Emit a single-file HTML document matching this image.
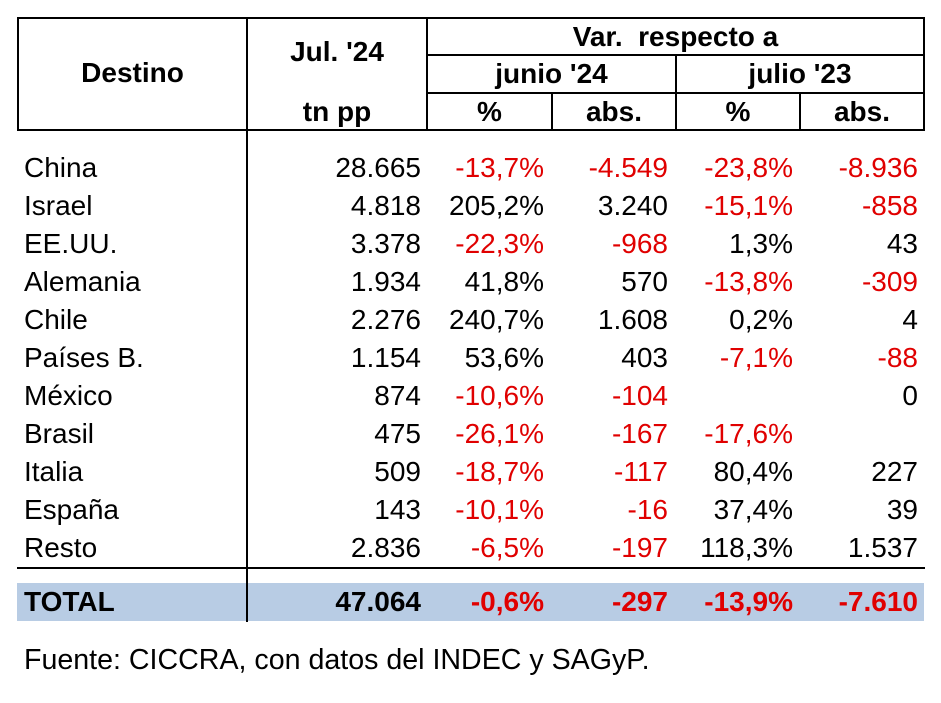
<!DOCTYPE html>
<html><head><meta charset="utf-8"><style>
body{margin:0;width:941px;height:703px;background:#fff;font-family:"Liberation Sans",Arial,sans-serif;position:relative;overflow:hidden}
.a{position:absolute;white-space:nowrap}
.l{position:absolute;background:#000}
.h{font-weight:bold;font-size:28px;text-align:center;line-height:32px}
.t{font-size:28px;line-height:38px}
.r{color:#e00000}
</style></head><body>
<div class="a" style="left:17px;top:583px;width:907px;height:38px;background:#b8cce4"></div>
<div class="l" style="left:17px;top:17px;width:908px;height:2px"></div>
<div class="l" style="left:17px;top:129px;width:908px;height:2px"></div>
<div class="l" style="left:17px;top:17px;width:2px;height:114px"></div>
<div class="l" style="left:923px;top:17px;width:2px;height:114px"></div>
<div class="l" style="left:246px;top:17px;width:2px;height:605px"></div>
<div class="l" style="left:426px;top:17px;width:2px;height:114px"></div>
<div class="l" style="left:427px;top:54px;width:497px;height:2px"></div>
<div class="l" style="left:427px;top:92px;width:497px;height:2px"></div>
<div class="l" style="left:675px;top:55px;width:2px;height:75px"></div>
<div class="l" style="left:551px;top:93px;width:2px;height:37px"></div>
<div class="l" style="left:799px;top:93px;width:2px;height:37px"></div>
<div class="l" style="left:17px;top:567px;width:908px;height:2px"></div>
<div class="a h" style="left:19px;top:57px;width:227px">Destino</div>
<div class="a h" style="left:248px;top:36px;width:178px">Jul. '24</div>
<div class="a h" style="left:248px;top:96px;width:178px">tn pp</div>
<div class="a h" style="left:428px;top:21px;width:495px">Var.&nbsp; respecto a</div>
<div class="a h" style="left:428px;top:58px;width:247px">junio '24</div>
<div class="a h" style="left:677px;top:58px;width:246px">julio '23</div>
<div class="a h" style="left:428px;top:96px;width:123px">%</div>
<div class="a h" style="left:553px;top:96px;width:122px">abs.</div>
<div class="a h" style="left:677px;top:96px;width:122px">%</div>
<div class="a h" style="left:801px;top:96px;width:122px">abs.</div>
<div id="rows"></div>
<div class="a" style="left:24px;top:644px;font-size:28.6px">Fuente: CICCRA, con datos del INDEC y SAGyP.</div>
<script>
var d=[["China","28.665","-13,7%","-4.549","-23,8%","-8.936"],["Israel","4.818","205,2%","3.240","-15,1%","-858"],["EE.UU.","3.378","-22,3%","-968","1,3%","43"],["Alemania","1.934","41,8%","570","-13,8%","-309"],["Chile","2.276","240,7%","1.608","0,2%","4"],["Países B.","1.154","53,6%","403","-7,1%","-88"],["México","874","-10,6%","-104","","0"],["Brasil","475","-26,1%","-167","-17,6%",""],["Italia","509","-18,7%","-117","80,4%","227"],["España","143","-10,1%","-16","37,4%","39"],["Resto","2.836","-6,5%","-197","118,3%","1.537"],["TOTAL","47.064","-0,6%","-297","-13,9%","-7.610"]];
var R=[421,544,668,793,918],h="";
d.forEach(function(r,i){var y=i<11?149+i*38:583;var b=i==11?"font-weight:bold;":"";
h+='<div class="a t" style="'+b+'left:24px;top:'+y+'px">'+r[0]+'</div>';
for(var j=1;j<6;j++){var c=r[j].charAt(0)=="-"||(i==11&&j>1)?" r":"";
h+='<div class="a t'+c+'" style="'+b+'right:'+(941-R[j-1])+'px;top:'+y+'px">'+r[j]+'</div>';}});
document.getElementById("rows").innerHTML=h;
</script>
</body></html>
